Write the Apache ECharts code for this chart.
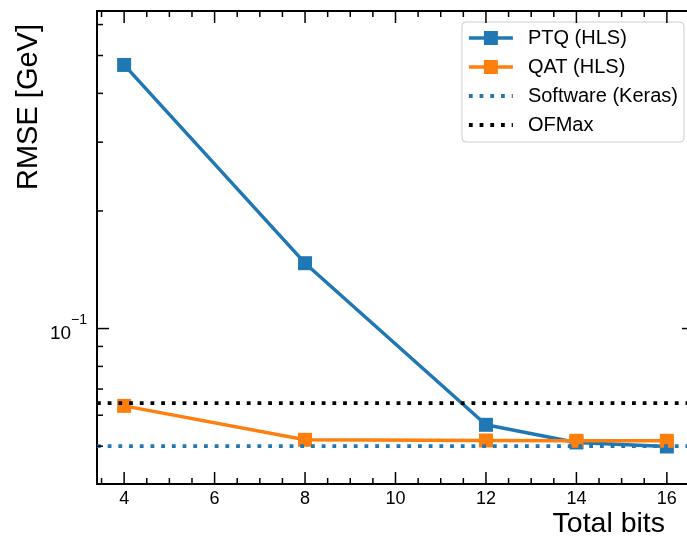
<!DOCTYPE html>
<html>
<head>
<meta charset="utf-8">
<script src="https://cdn.jsdelivr.net/npm/echarts@6/dist/echarts.min.js"></script>
<style>
html,body{margin:0;padding:0;background:#fff;}
#chart{width:687px;height:542px;}
</style>
</head>
<body>
<div id="chart"></div>
<script>
// ---- data ----
const bits = [4, 8, 12, 14, 16];
const ptqRMSE = [0.473, 0.147, 0.0567, 0.0511, 0.0499];
const qatRMSE = [0.0634, 0.0519, 0.0517, 0.0516, 0.0516];
const softwareRMSE = 0.0500;
const ofmaxRMSE = 0.0644;
const xTickLabels = [4, 6, 8, 10, 12, 14, 16];
const xMinorTicks = [3.5, 4.5, 5, 5.5, 6.5, 7, 7.5, 8.5, 9, 9.5, 10.5, 11, 11.5, 12.5, 13, 13.5, 14.5, 15, 15.5, 16.5];
const yTickLabels = [0.1];
const yMinorTicks = [0.05, 0.06, 0.07, 0.08, 0.09, 0.2, 0.3, 0.4, 0.5, 0.6];
const seriesNames = ['PTQ (HLS)', 'QAT (HLS)', 'Software (Keras)', 'OFMax'];

// axis limits
const XMIN = 3.4, XMAX = 16.6, YMIN = 0.04, YMAX = 0.65;

const FONT = '"Liberation Sans", Arial, Helvetica, sans-serif';

const tickData = [];
xTickLabels.forEach(v => tickData.push([v, YMIN, 0]));
xMinorTicks.forEach(v => tickData.push([v, YMIN, 1]));
yTickLabels.forEach(v => tickData.push([XMIN, v, 2]));
yMinorTicks.forEach(v => tickData.push([XMIN, v, 3]));

const chart = echarts.init(document.getElementById('chart'), null, {renderer: 'canvas'});

const option = {
  animation: false,
  backgroundColor: '#fff',
  textStyle: {fontFamily: FONT},
  grid: {
    left: 97, top: 11, right: -7, bottom: 58,
    containLabel: false,
    outerBoundsMode: 'none',
    show: true, borderColor: '#000', borderWidth: 2, backgroundColor: 'transparent'
  },
  xAxis: {
    type: 'value', min: XMIN, max: XMAX,
    axisLine: {show: false},
    axisTick: {show: false},
    splitLine: {show: false},
    axisLabel: {
      customValues: xTickLabels,
      color: '#000', fontSize: 18, margin: 6, fontFamily: FONT
    }
  },
  yAxis: {
    type: 'log', logBase: 10, min: YMIN, max: YMAX,
    axisLine: {show: false},
    axisTick: {show: false},
    splitLine: {show: false},
    minorTick: {show: false},
    axisLabel: {
      margin: 10,
      showMinLabel: false, showMaxLabel: false,
      formatter: function (v) {
        for (const t of yTickLabels) {
          if (Math.abs(v - t) < 1e-9) {
            const e = Math.round(Math.log10(t));
            return '{a|10}{b|' + (e < 0 ? '\u2212' + (-e) : e) + '}';
          }
        }
        return '';
      },
      rich: {
        a: {fontSize: 19, color: '#000', fontFamily: FONT, lineHeight: 30, verticalAlign: 'bottom'},
        b: {fontSize: 14, color: '#000', fontFamily: FONT, lineHeight: 30, verticalAlign: 'top'}
      }
    }
  },
  legend: {
    data: [
      {name: seriesNames[0]},
      {name: seriesNames[1]},
      {name: seriesNames[2], itemStyle: {opacity: 0}},
      {name: seriesNames[3], itemStyle: {opacity: 0}}
    ],
    orient: 'vertical',
    left: 462, top: 22,
    padding: [6, 6, 7, 5],
    itemWidth: 44, itemHeight: 17.5, itemGap: 9,
    lineStyle: {width: 'inherit'},
    backgroundColor: 'rgba(255,255,255,0.8)',
    borderColor: '#cccccc', borderWidth: 1, borderRadius: 4,
    textStyle: {fontSize: 20, color: '#000', fontFamily: FONT, lineHeight: 20, padding: [0, 0, 0, 10]}
  },
  graphic: [
    {
      type: 'text', x: 665, y: 524,
      style: {text: 'Total bits', fontSize: 28.5, fontFamily: FONT, fill: '#000', textAlign: 'right', textVerticalAlign: 'middle'}
    },
    {
      type: 'text', x: 29, y: 24, rotation: Math.PI / 2,
      style: {text: 'RMSE [GeV]', fontSize: 29, fontFamily: FONT, fill: '#000', textAlign: 'right', textVerticalAlign: 'middle'}
    }
  ],
  series: [
    {
      name: seriesNames[0], type: 'line',
      data: bits.map((b, i) => [b, ptqRMSE[i]]),
      symbol: 'rect', symbolSize: 14,
      lineStyle: {color: '#1f77b4', width: 3.5},
      itemStyle: {color: '#1f77b4'},
      z: 3
    },
    {
      name: seriesNames[1], type: 'line',
      data: bits.map((b, i) => [b, qatRMSE[i]]),
      symbol: 'rect', symbolSize: 14,
      lineStyle: {color: '#ff7f0e', width: 3.5},
      itemStyle: {color: '#ff7f0e'},
      z: 4
    },
    {
      name: seriesNames[2], type: 'line',
      data: [[XMIN, softwareRMSE], [XMAX, softwareRMSE]],
      symbol: 'none',
      lineStyle: {color: '#1f77b4', width: 3.8, type: [3.8, 6.9], cap: 'butt'},
      itemStyle: {color: '#1f77b4'},
      z: 5
    },
    {
      name: seriesNames[3], type: 'line',
      data: [[XMIN, ofmaxRMSE], [XMAX, ofmaxRMSE]],
      symbol: 'none',
      lineStyle: {color: '#000', width: 3.8, type: [3.8, 6.9], cap: 'butt'},
      itemStyle: {color: '#000'},
      z: 6
    },
    {
      name: 'ticks', type: 'custom',
      coordinateSystem: 'cartesian2d',
      dimensions: ['x', 'y', 'k'],
      encode: {x: 0, y: 1},
      data: tickData,
      silent: true,
      z: 7,
      renderItem: function (params, api) {
        const k = api.value(2);
        const st = {stroke: '#000', lineWidth: 1.5};
        if (k < 2) {
          const x = api.value(0);
          const b = api.coord([x, YMIN]);
          const t = api.coord([x, YMAX]);
          const len = k === 0 ? 12 : 6;
          return {type: 'group', children: [
            {type: 'line', shape: {x1: b[0], y1: b[1], x2: b[0], y2: b[1] - len}, style: st},
            {type: 'line', shape: {x1: t[0], y1: t[1], x2: t[0], y2: t[1] + len}, style: st}
          ]};
        } else {
          const y = api.value(1);
          const l = api.coord([XMIN, y]);
          const r = api.coord([XMAX, y]);
          const len = k === 2 ? 12 : 6;
          return {type: 'group', children: [
            {type: 'line', shape: {x1: l[0], y1: l[1], x2: l[0] + len, y2: l[1]}, style: st},
            {type: 'line', shape: {x1: r[0], y1: r[1], x2: r[0] - len, y2: r[1]}, style: st}
          ]};
        }
      }
    }
  ]
};
chart.setOption(option);
</script>
</body>
</html>
